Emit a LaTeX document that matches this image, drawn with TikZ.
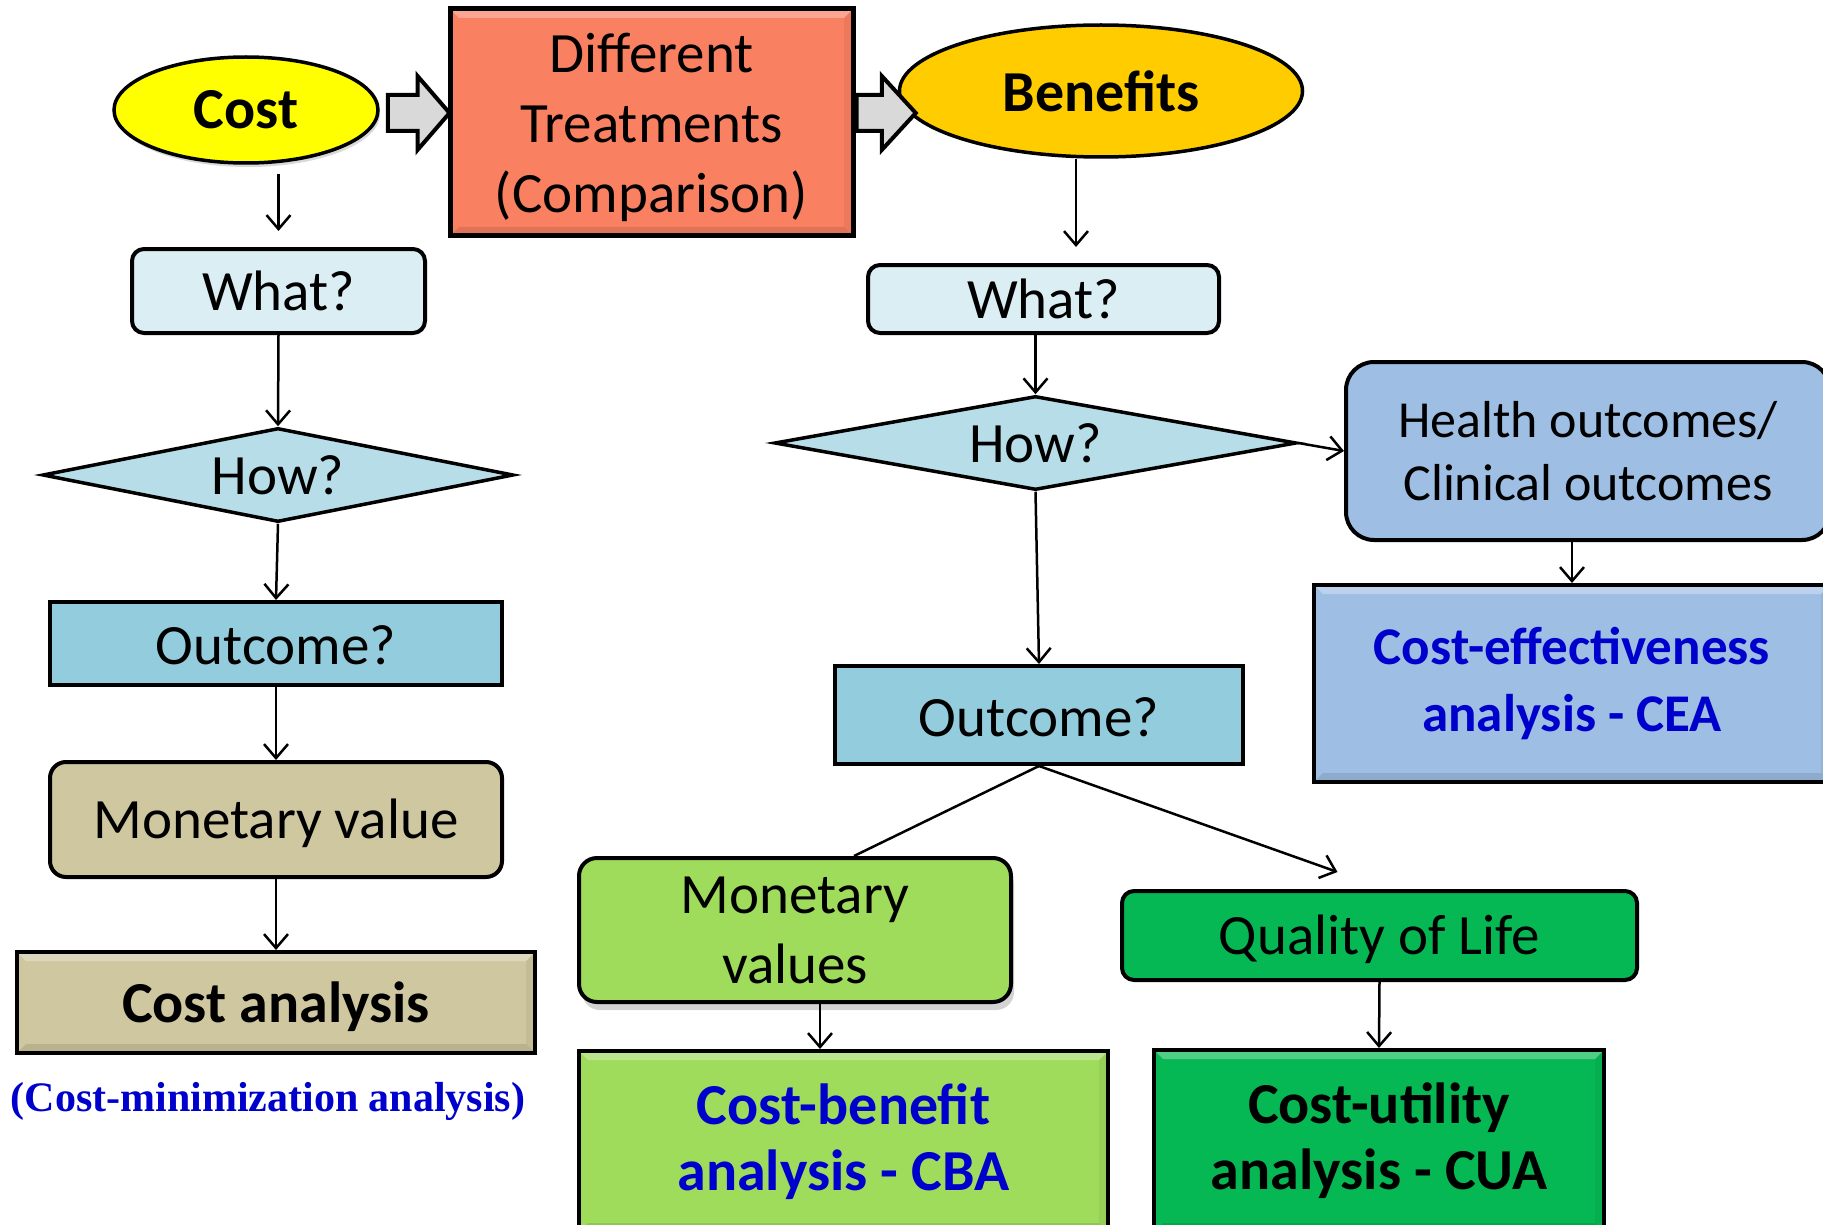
\documentclass[tikz,border=0pt]{standalone}
\usepackage{fontspec}
\setmainfont{Carlito}
\newfontfamily\capfont{Liberation Serif}
\usetikzlibrary{shapes.geometric,arrows.meta,calc,shadows}
\definecolor{cYellow}{HTML}{FFFF00}
\definecolor{cGold}{HTML}{FFCC00}
\definecolor{cCoral}{HTML}{FA8062}
\definecolor{cGrayA}{HTML}{D9D9D9}
\definecolor{cWhat}{HTML}{DAEEF3}
\definecolor{cHow}{HTML}{B7DEE8}
\definecolor{cOut}{HTML}{93CDDD}
\definecolor{cTan}{HTML}{CFC7A0}
\definecolor{cSky}{HTML}{9FBEE4}
\definecolor{cLime}{HTML}{A0DC5C}
\definecolor{cGreen}{HTML}{06B853}
\definecolor{cBlueTxt}{HTML}{0000CC}
\newcommand\fsreg{\fontsize{57}{70}\selectfont}
\newcommand\fsbold{\fontsize{58}{66}\selectfont\bfseries}
\newcommand\lowered[2]{\raisebox{-#1}[\height][\depth]{#2}}
\tikzset{
  base/.style={draw=black, line width=4pt, inner sep=0pt, align=center, font=\fsreg},
  sqbox/.style={base, rectangle},
  bevel/.style={path picture={
      \fill[white, opacity=0.3]
        (path picture bounding box.north west) -- (path picture bounding box.north east)
        -- ++(-9pt,-9pt) -- ($(path picture bounding box.north west)+(9pt,-9pt)$) -- cycle;
      \fill[black, opacity=0.1]
        (path picture bounding box.south west) -- (path picture bounding box.south east)
        -- ++(-9pt,9pt) -- ($(path picture bounding box.south west)+(9pt,9pt)$) -- cycle;
      \fill[black, opacity=0.05]
        (path picture bounding box.north east) -- (path picture bounding box.south east)
        -- ++(-9pt,9pt) -- ($(path picture bounding box.north east)+(-9pt,-9pt)$) -- cycle;}},
  rbox/.style={base, rectangle, rounded corners=#1},
  ell/.style={base, ellipse, line width=3.5pt},
  dia/.style={base, diamond, aspect=5, line width=3.5pt, fill=cHow},
  arr/.style={line width=2.5pt, -{Straight Barb[length=14pt,width=24pt]}},
  plain/.style={line width=2.5pt},
  barrow/.style={draw=black, line width=4pt, fill=cGrayA, line join=miter},
}
\begin{document}
\begin{tikzpicture}[x=1pt,y=-1pt]
\useasboundingbox (0,0) rectangle (1823,1225);
\clip (0,0) rectangle (1823,1225);
% top row
\node[ell, fill=cYellow, minimum width=264pt, minimum height=106pt, font=\fsbold,
      drop shadow={shadow xshift=2pt, shadow yshift=-4pt, opacity=0.3}] (cost) at (246,110) {Cost};
\node[sqbox, bevel, fill=cCoral, line width=5pt, minimum width=403pt, minimum height=227pt] (treat) at (651.5,122.5) {\lowered{6pt}{\begin{tabular}{@{}c@{}}Different\\Treatments\\(Comparison)\end{tabular}}};
\node[ell, fill=cGold, minimum width=403pt, minimum height=132pt, font=\fsbold] (ben) at (1101,91) {Benefits};
% left column
\node[rbox=12pt, fill=cWhat, minimum width=293pt, minimum height=84pt] (whatL) at (278.5,291) {What?};
\node[dia, minimum width=471pt, minimum height=94pt] (howL) at (278,475) {How?};
\node[sqbox, fill=cOut, minimum width=452pt, minimum height=83pt] (outL) at (276,643.5) {\lowered{2pt}{Outcome?}};
\node[rbox=16pt, fill=cTan, minimum width=452pt, minimum height=115pt] (monL) at (276,819.5) {\lowered{4pt}{Monetary value}};
\node[sqbox, bevel, fill=cTan, minimum width=518pt, minimum height=101pt, font=\fsbold] (costA) at (276,1002.5) {\lowered{4pt}{Cost analysis}};
\node[font=\capfont\bfseries\fontsize{42}{48}\selectfont, text=cBlueTxt, inner sep=0pt] (capt) at (268,1101) {(Cost-minimization analysis)};
% right part
\node[rbox=12pt, fill=cWhat, minimum width=351pt, minimum height=68pt] (whatR) at (1043.5,299) {What?};
\node[dia, minimum width=522pt, minimum height=94pt] (howR) at (1035.5,443) {How?};
\node[rbox=28pt, fill=cSky, minimum width=484pt, minimum height=178pt, font=\fontsize{52}{63}\selectfont] (health) at (1588,451) {Health outcomes/\\Clinical outcomes};
\node[sqbox, bevel, fill=cSky, minimum width=516pt, minimum height=197pt, text=cBlueTxt, font=\fontsize{53}{67}\selectfont\bfseries] (cea) at (1572,683.5) {Cost-effectiveness\\analysis - CEA};
\node[sqbox, fill=cOut, minimum width=408pt, minimum height=98pt] (outR) at (1039,715) {\lowered{2pt}{Outcome?}};
\node[rbox=18pt, fill=cLime, minimum width=432pt, minimum height=144pt,
      drop shadow={shadow xshift=3pt, shadow yshift=-8pt, opacity=0.35}] (monR) at (795,930) {\lowered{4pt}{\begin{tabular}{@{}c@{}}Monetary\\values\end{tabular}}};
\node[sqbox, bevel, fill=cLime, minimum width=529pt, minimum height=181pt, text=cBlueTxt, font=\fsbold] (cba) at (843.5,1141.5) {Cost-benefit\\analysis - CBA};
\node[rbox=12pt, fill=cGreen, minimum width=515pt, minimum height=89pt] (qol) at (1379.5,935.5) {\lowered{4pt}{Quality of Life}};
\node[sqbox, bevel, fill=cGreen, minimum width=450pt, minimum height=182pt, font=\fsbold] (cua) at (1379,1141) {Cost-utility\\analysis - CUA};
% block arrows
\draw[barrow] let \p1=($(cost.east)+(8,0)$), \p2=($(treat.west|-cost.east)+(2,3)$) in
  (\x1,\y2+18pt) -- (\x2-32pt,\y2+18pt) -- (\x2-32pt,\y2+37pt) -- (\x2,\y2) --
  (\x2-32pt,\y2-37pt) -- (\x2-32pt,\y2-18pt) -- (\x1,\y2-18pt) -- cycle;
\draw[barrow] let \p1=($(treat.east)+(1,0)$), \p2=($(ben.west|-cost.east)+(18,3)$) in
  (\x1,\y2+18pt) -- (\x2-34pt,\y2+18pt) -- (\x2-34pt,\y2+37pt) -- (\x2,\y2) --
  (\x2-34pt,\y2-37pt) -- (\x2-34pt,\y2-18pt) -- (\x1,\y2-18pt) -- cycle;
% left connectors
\draw[arr, shorten <=9pt, shorten >=16pt] (whatL.north |- cost.south) -- (whatL.north);
\draw[arr] (whatL.south) -- (howL.north);
\draw[arr] (howL.south) -- (outL.north);
\draw[arr] (outL.south) -- (monL.north);
\draw[arr] (monL.south) -- (costA.north);
% right connectors
\coordinate (bA) at ($(ben.south)+(-25,0)$);
\draw[arr, shorten >=16pt] (bA) -- (bA |- whatR.north);
\draw[arr] (howR.north |- whatR.south) -- (howR.north);
\draw[arr] (howR.east) -- (health.west);
\draw[arr] (cea.north |- health.south) -- (cea.north);
\draw[arr] (howR.south) -- (outR.north);
\draw[plain] (outR.south) -- ($(monR.north)+(59,0)$);
\draw[arr] (outR.south) -- ($(qol.north)+(-42,-17)$);
\coordinate (mA) at ($(monR.south)+(25,0)$);
\draw[arr] (mA) -- (mA |- cba.north);
\draw[arr] (qol.south) -- (cua.north);
\end{tikzpicture}
\end{document}
